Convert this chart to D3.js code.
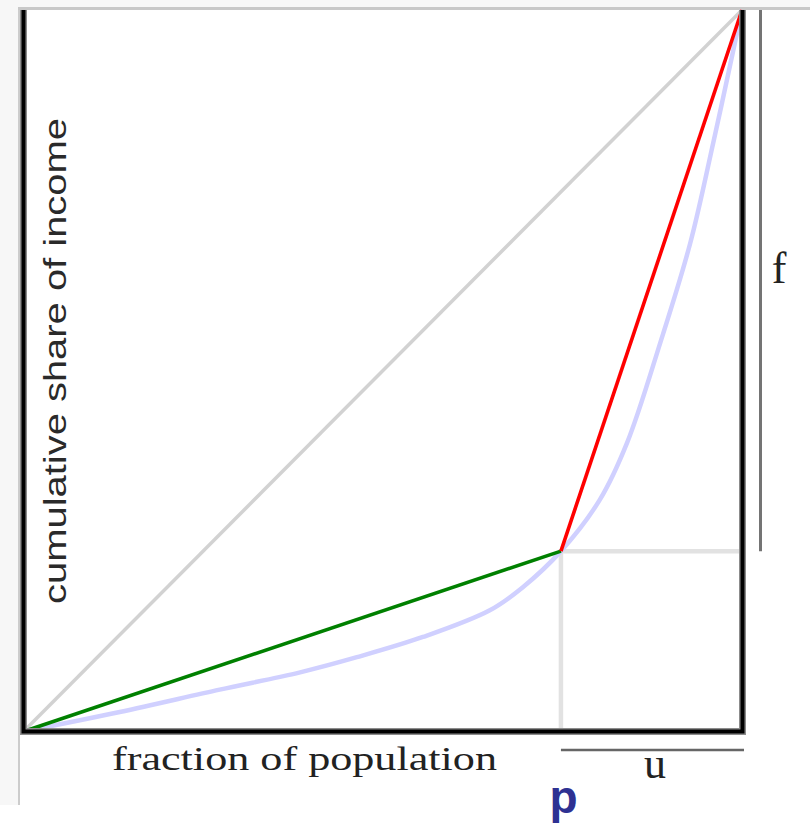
<!DOCTYPE html>
<html>
<head>
<meta charset="utf-8">
<script src="https://cdn.jsdelivr.net/npm/d3@7"></script>
<style>
  html, body { margin: 0; padding: 0; background: #ffffff; }
  svg { display: block; }
</style>
</head>
<body>
<div id="chart"></div>
<script>
// ---- data (normalised: population share, income share) ----
const lorenzPop    = [0, 0.134, 0.273, 0.385, 0.464, 0.556, 0.649, 0.695, 0.748, 0.802, 0.840, 0.886, 0.928, 0.960, 0.990, 1];
const lorenzIncome = [0, 0.027, 0.058, 0.082, 0.103, 0.131, 0.168, 0.200, 0.250, 0.321, 0.400, 0.538, 0.677, 0.816, 0.954, 1];
const pointP = [0.748, 0.250];          // the point p on the curve
const equalityLine = [[0, 0], [1, 1]];
const labels = {
  x: "fraction of population",
  y: "cumulative share of income",
  p: "p", u: "u", f: "f"
};

const W = 810, H = 823;
const svg = d3.select("#chart").append("svg").attr("width", W).attr("height", H);

const x = d3.scaleLinear().domain([0, 1]).range([23.5, 742]);
const y = d3.scaleLinear().domain([0, 1]).range([731.5, 10]);

// outer frame (light background + faint grey border)
svg.append("rect").attr("x", 0).attr("y", 0).attr("width", 18).attr("height", 805).attr("fill", "#f7f7f7");
svg.append("rect").attr("x", 0).attr("y", 0).attr("width", W).attr("height", 7).attr("fill", "#f7f7f7");
svg.append("line").attr("x1", 19).attr("x2", 19).attr("y1", 7).attr("y2", 805)
  .attr("stroke", "#cccccc").attr("stroke-width", 2);
svg.append("line").attr("x1", 18).attr("x2", W).attr("y1", 8.5).attr("y2", 8.5)
  .attr("stroke", "#c8c8c8").attr("stroke-width", 3);

const line = d3.line().x(d => x(d[0])).y(d => y(d[1]));

// equality diagonal
svg.append("path").datum(equalityLine).attr("d", line)
  .attr("fill", "none").attr("stroke", "#d2d2d2").attr("stroke-width", 3.5);

// light grey guide lines from p
svg.append("path").datum([[pointP[0], 0], pointP, [1, pointP[1]]]).attr("d", line)
  .attr("fill", "none").attr("stroke", "#e2e2e2").attr("stroke-width", 4.5);

// Lorenz curve
const lorenz = lorenzPop.map((v, i) => [v, lorenzIncome[i]]);
svg.append("path").datum(lorenz)
  .attr("d", d3.line().x(d => x(d[0])).y(d => y(d[1])).curve(d3.curveCatmullRom.alpha(0.5)))
  .attr("fill", "none").attr("stroke", "#d0d0ff").attr("stroke-width", 4.5);

// green and red chords
svg.append("path").datum([[0, 0], pointP]).attr("d", line)
  .attr("fill", "none").attr("stroke", "#008000").attr("stroke-width", 3.6);
svg.append("path").datum([pointP, [1, 1]]).attr("d", line)
  .attr("fill", "none").attr("stroke", "#ff0000").attr("stroke-width", 3.6);

// black axes (left, bottom, right) with grey halo
const axisPath = [[0, 1], [0, 0], [1, 0], [1, 1]];
const axisLine = d3.line().x(d => d[0] === 0 ? 23.5 : 742.5).y(d => d[1] === 0 ? 731.5 : 10);
svg.append("path").datum(axisPath).attr("d", axisLine)
  .attr("fill", "none").attr("stroke", "#8c8c8c").attr("stroke-width", 7);
svg.append("path").datum(axisPath).attr("d", axisLine)
  .attr("fill", "none").attr("stroke", "#000").attr("stroke-width", 4);

// f bracket (right) and u bracket (bottom)
svg.append("line").attr("x1", 760.5).attr("x2", 760.5).attr("y1", y(1)).attr("y2", y(pointP[1]))
  .attr("stroke", "#747474").attr("stroke-width", 3);
svg.append("line").attr("x1", x(pointP[0])).attr("x2", 744).attr("y1", 750).attr("y2", 750)
  .attr("stroke", "#666666").attr("stroke-width", 2.5);

// labels
svg.append("text")
  .attr("transform", "translate(66,361) rotate(-90)")
  .attr("text-anchor", "middle")
  .attr("font-family", "Liberation Sans, Arial, sans-serif")
  .attr("font-size", 31)
  .attr("fill", "#2a2a2a")
  .attr("textLength", 486).attr("lengthAdjust", "spacingAndGlyphs")
  .text(labels.y);

svg.append("text")
  .attr("x", 112).attr("y", 770)
  .attr("font-family", "Liberation Serif, Times New Roman, serif")
  .attr("font-size", 34)
  .attr("fill", "#222")
  .attr("textLength", 385).attr("lengthAdjust", "spacingAndGlyphs")
  .text(labels.x);

svg.append("text")
  .attr("x", 655).attr("y", 778)
  .attr("text-anchor", "middle")
  .attr("font-family", "Liberation Serif, Times New Roman, serif")
  .attr("font-size", 44)
  .attr("fill", "#222")
  .text(labels.u);

svg.append("text")
  .attr("x", 779).attr("y", 283)
  .attr("text-anchor", "middle")
  .attr("font-family", "Liberation Serif, Times New Roman, serif")
  .attr("font-size", 44)
  .attr("fill", "#222")
  .text(labels.f);

svg.append("text")
  .attr("x", 563.5).attr("y", 813)
  .attr("text-anchor", "middle")
  .attr("font-family", "Liberation Sans, Arial, sans-serif")
  .attr("font-weight", "bold")
  .attr("font-size", 46)
  .attr("fill", "#2e3192")
  .text(labels.p);
</script>
</body>
</html>
